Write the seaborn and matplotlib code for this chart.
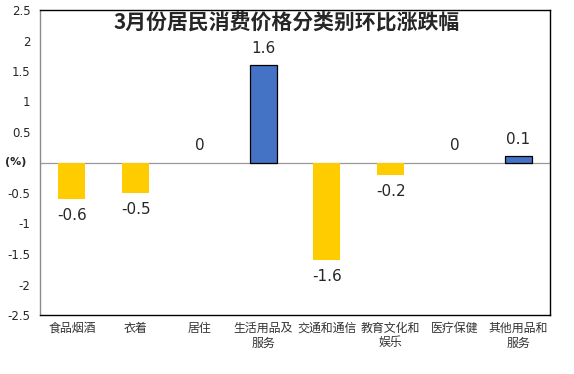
import matplotlib
matplotlib.use("Agg")
import matplotlib.pyplot as plt
import seaborn as sns
import pandas as pd

categories = ["食品烟酒", "衣着", "居住", "生活用品及\n服务", "交通和通信", "教育文化和\n娱乐", "医疗保健", "其他用品和\n服务"]
values = [-0.6, -0.5, 0.0, 1.6, -1.6, -0.2, 0.0, 0.1]
yticks = [-2.5, -2, -1.5, -1, -0.5, 0, 0.5, 1, 1.5, 2, 2.5]
ytick_labels = ["-2.5", "-2", "-1.5", "-1", "-0.5", "", "0.5", "1", "1.5", "2", "2.5"]
title = "3月份居民消费价格分类别环比涨跌幅"

sns.set_style("white")
plt.rcParams['font.family'] = ['Noto Sans CJK SC', 'DejaVu Sans']

BLUE = "#4472C4"
YELLOW = "#FFCC00"
colors = [BLUE if v > 0 else YELLOW for v in values]

df = pd.DataFrame({"cat": categories, "val": values})

fig = plt.figure(figsize=(5.74, 3.74), dpi=100)
ax = fig.add_axes([40/574, 1-315/374, (550-40)/574, (315-10)/374])

sns.barplot(data=df, x="cat", y="val", hue="cat", palette=colors, legend=False,
            width=0.42, ax=ax, saturation=1)

for patch, v in zip(ax.patches, values):
    if v > 0:
        patch.set_edgecolor("black")
        patch.set_linewidth(0.9)
    else:
        patch.set_edgecolor("none")

ax.set_ylim(-2.5, 2.5)
ax.set_yticks(yticks)
ax.set_yticklabels(ytick_labels, fontsize=8.5, family=['DejaVu Sans'])
ax.axhline(0, color="#9a9a9a", lw=0.9, zorder=0.5)
ax.tick_params(axis='both', length=0)
ax.tick_params(axis='y', pad=7)
ax.tick_params(axis='x', pad=5)
ax.set_xticks(range(len(categories)))
ax.set_xticklabels(categories, fontsize=8.6, color="#333333", linespacing=1.15)
ax.set_xlabel("")
ax.set_ylabel("")

for sp in ["top", "right", "bottom"]:
    ax.spines[sp].set_color("black")
    ax.spines[sp].set_linewidth(1.0)
ax.spines["left"].set_color("#8a8a8a")
ax.spines["left"].set_linewidth(1.0)

for i, v in enumerate(values):
    if v >= 0:
        ax.annotate(f"{v:g}", (i, v), xytext=(0, 6.5), textcoords="offset points",
                    ha="center", va="bottom", fontsize=11, family=['DejaVu Sans'])
    else:
        ax.annotate(f"{v:g}", (i, v), xytext=(0, -6.5), textcoords="offset points",
                    ha="center", va="top", fontsize=11, family=['DejaVu Sans'])

fig.text(5/574, 1-162/374, "(%)", fontsize=8, fontweight="bold", va="center", ha="left",
         family=['DejaVu Sans'])
fig.text(287/574, 1-23/374, title, fontsize=15, fontweight="bold", ha="center", va="center")

fig.savefig("out.png", dpi=100)
